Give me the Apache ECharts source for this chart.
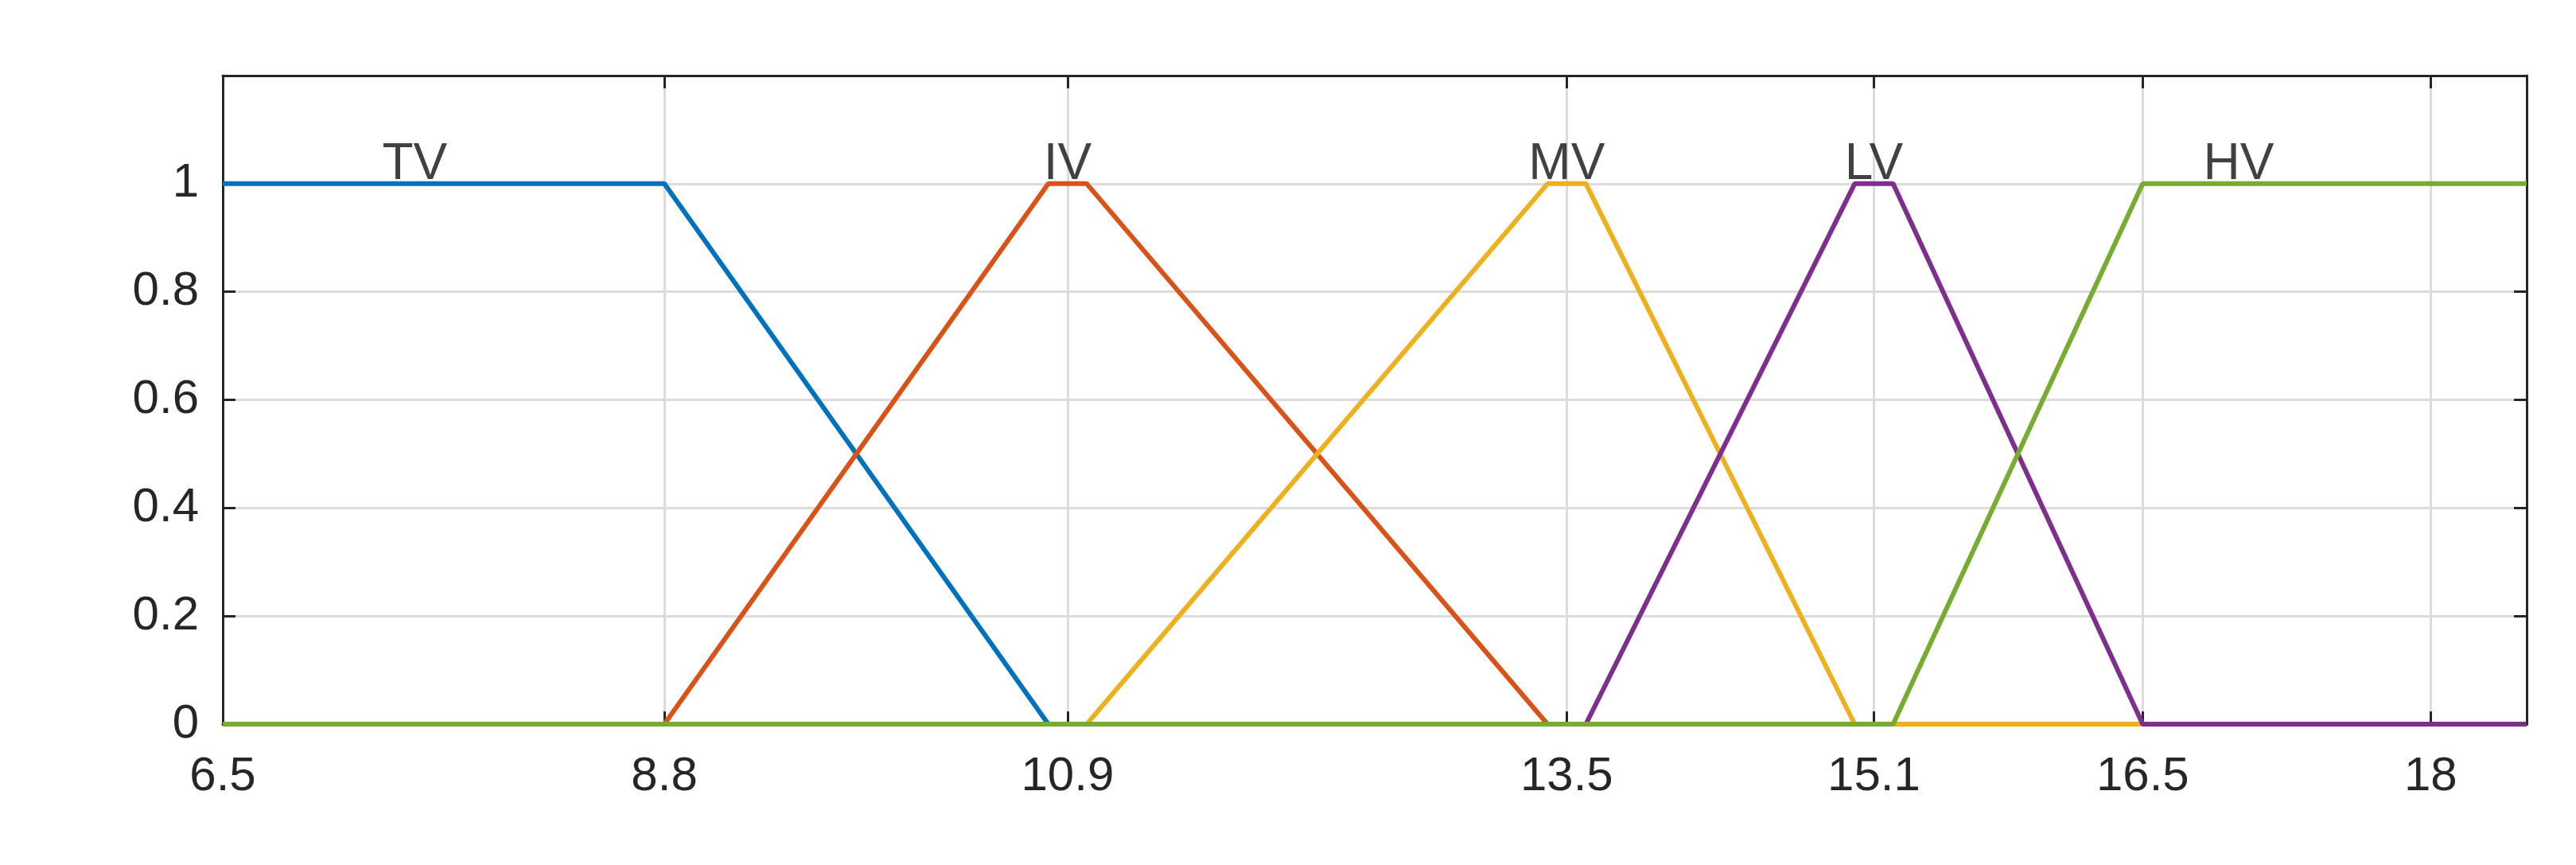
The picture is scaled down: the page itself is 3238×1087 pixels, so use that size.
<!DOCTYPE html>
<html>
<head>
<meta charset="utf-8">
<script src="https://cdn.jsdelivr.net/npm/echarts@6/dist/echarts.min.js"></script>
<style>
    html, body { margin: 0; padding: 0; background: #fff; }
    #mf-chart { width: 3238px; height: 1087px; }
</style>
</head>
<body>
<div id="mf-chart"></div>
<script>
    // membership functions over [6.5, 18.5]
    const xTicks = [6.5, 8.8, 10.9, 13.5, 15.1, 16.5, 18]
    const mfNames = ['TV', 'IV', 'MV', 'LV', 'HV']
    const mfColors = ['#0072BD', '#D95319', '#EDB120', '#7E2F8E', '#77AC30']

    const tvX = [6.5, 8.8, 10.8, 18.5]
    const tvY = [1, 1, 0, 0]
    const ivX = [6.5, 8.8, 10.8, 11.0, 13.4, 18.5]
    const ivY = [0, 0, 1, 1, 0, 0]
    const mvX = [6.5, 11.0, 13.4, 13.6, 15.0, 18.5]
    const mvY = [0, 0, 1, 1, 0, 0]
    const lvX = [6.5, 13.6, 15.0, 15.2, 16.5, 18.5]
    const lvY = [0, 0, 1, 1, 0, 0]
    const hvX = [6.5, 15.2, 16.5, 18.5]
    const hvY = [0, 0, 1, 1]

    // where the names sit (x, at membership 1)
    const labelX = [7.5, 10.9, 13.5, 15.1, 17.0]

    const curves = [[tvX, tvY], [ivX, ivY], [mvX, mvY], [lvX, lvY], [hvX, hvY]]

    const font = 'Liberation Sans, Arial, sans-serif'
    const axisColor = '#262626'
    const gridColor = '#dcdcdc'

    let chart = echarts.init(document.getElementById('mf-chart'))

    let series = curves.map((c, i) => ({
        name: mfNames[i],
        type: 'line',
        showSymbol: false,
        symbol: 'none',
        lineStyle: {color: mfColors[i], width: 6},
        data: c[0].map((x, k) => [x, c[1][k]])
    }))

    series.push({
        name: 'names',
        type: 'scatter',
        symbolSize: 0,
        silent: true,
        label: {
            show: true,
            position: 'top',
            distance: -9,
            color: '#111',
            fontFamily: font,
            fontSize: 64,
            formatter: p => mfNames[p.dataIndex]
        },
        data: labelX.map(x => [x, 1])
    })

    const xBase = {
        type: 'value',
        min: 6.5,
        max: 18.5,
        axisLine: {show: true, onZero: false, lineStyle: {color: axisColor, width: 3}},
        axisTick: {show: true, inside: true, length: 16, customValues: xTicks,
            lineStyle: {color: axisColor, width: 3}},
        splitLine: {show: true, lineStyle: {color: gridColor, width: 3}},
        axisLabel: {show: true, customValues: xTicks, color: '#262626',
            fontFamily: font, fontSize: 60, margin: 36}
    }
    const yBase = {
        type: 'value',
        min: 0,
        max: 1.2,
        interval: 0.2,
        axisLine: {show: true, lineStyle: {color: axisColor, width: 3}},
        axisTick: {show: true, inside: true, length: 16, lineStyle: {color: axisColor, width: 3}},
        splitLine: {show: true, lineStyle: {color: gridColor, width: 3}},
        axisLabel: {show: true, showMaxLabel: false, color: '#262626',
            fontFamily: font, fontSize: 60, margin: 30}
    }

    let option = {
        backgroundColor: '#fff',
        animation: false,
        grid: {left: 280, right: 62, top: 95, bottom: 177, containLabel: false},
        xAxis: [
            xBase,
            Object.assign({}, xBase, {position: 'top', splitLine: {show: false},
                axisLabel: {show: false}})
        ],
        yAxis: [
            yBase,
            Object.assign({}, yBase, {position: 'right', splitLine: {show: false},
                axisLabel: {show: false}})
        ],
        series: series
    }
    chart.setOption(option)
</script>
</body>
</html>
